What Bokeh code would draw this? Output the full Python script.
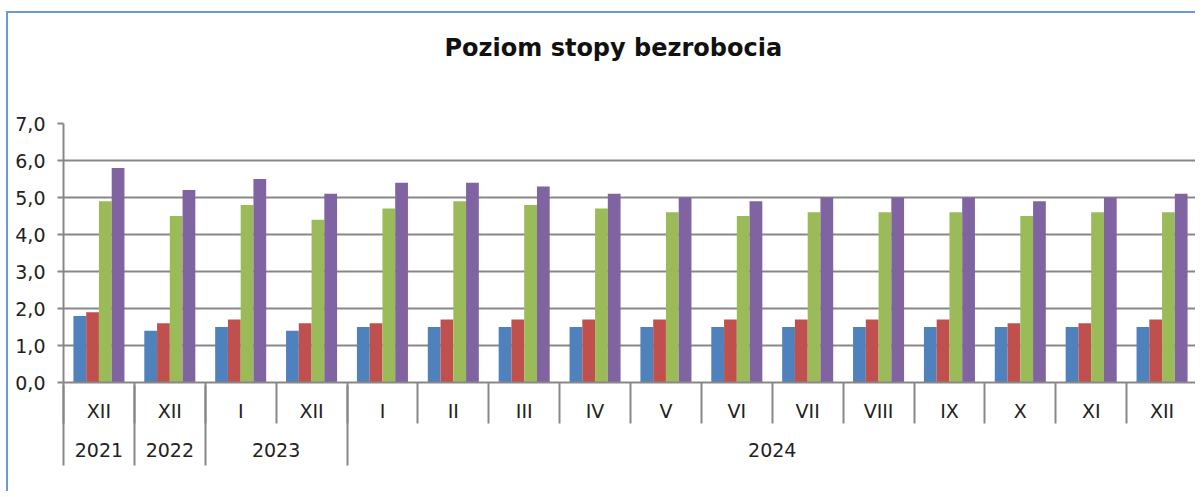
from bokeh.plotting import figure
from bokeh.models import Range1d, LinearAxis, FixedTicker, ColumnDataSource, Title
from bokeh.transform import dodge
from bokeh.embed import file_html
from bokeh.resources import INLINE

# ---- data ----
months = ["XII", "XII", "I", "XII", "I", "II", "III", "IV", "V", "VI",
          "VII", "VIII", "IX", "X", "XI", "XII"]
years = ["2021", "2022", "2023", "2024"]
year_spans = [1, 1, 2, 12]
series_blue = [1.8, 1.4, 1.5, 1.4, 1.5, 1.5, 1.5, 1.5, 1.5, 1.5, 1.5, 1.5, 1.5, 1.5, 1.5, 1.5]
series_red = [1.9, 1.6, 1.7, 1.6, 1.6, 1.7, 1.7, 1.7, 1.7, 1.7, 1.7, 1.7, 1.7, 1.6, 1.6, 1.7]
series_green = [4.9, 4.5, 4.8, 4.4, 4.7, 4.9, 4.8, 4.7, 4.6, 4.5, 4.6, 4.6, 4.6, 4.5, 4.6, 4.6]
series_purple = [5.8, 5.2, 5.5, 5.1, 5.4, 5.4, 5.3, 5.1, 5.0, 4.9, 5.0, 5.0, 5.0, 4.9, 5.0, 5.1]
y_ticks = [0, 1, 2, 3, 4, 5, 6, 7]
y_tick_labels = ["0,0", "1,0", "2,0", "3,0", "4,0", "5,0", "6,0", "7,0"]
title_text = "Poziom stopy bezrobocia"

colors = ["#4F81BD", "#C0504D", "#9BBB59", "#8064A2"]
GRID = "#878787"
TXT = "#222222"
FONT = "DejaVu Sans"

n = len(months)
centers = [i + 0.5 for i in range(n)]
src = ColumnDataSource(dict(x=centers, s0=series_blue, s1=series_red,
                            s2=series_green, s3=series_purple))

p = figure(width=1189, height=480, x_range=Range1d(0, n), y_range=Range1d(0, 7),
           output_backend="svg", toolbar_location=None, x_axis_location=None)
p.styles = {"border-left": "2px solid #6A98D8", "border-top": "2px solid #6A98D8",
            "margin-top": "11px", "margin-left": "6px"}
p.min_border_left = 55
p.min_border_right = 0
p.min_border_top = 110
p.min_border_bottom = 111
p.outline_line_color = None
p.background_fill_color = "white"
p.border_fill_color = "white"

bw = 0.18
offs = [-0.27, -0.09, 0.09, 0.27]
for k in range(4):
    p.vbar(x=dodge("x", offs[k], range=p.x_range), top="s%d" % k, width=bw,
           bottom=0, source=src, fill_color=colors[k], line_color=None)

# spacer between the title and the plot frame
p.add_layout(Title(text=" ", text_font_size="1px", standoff=54), "above")

# title
p.title.text = title_text
p.title.align = "left"
p.title.text_font = FONT
p.title.text_font_size = "24px"
p.title.text_font_style = "bold"
p.title.text_color = "#111111"
p.title.standoff = 10
p.title.offset = 381

# y axis
p.yaxis.ticker = FixedTicker(ticks=y_ticks, minor_ticks=[])
p.ygrid.ticker = FixedTicker(ticks=y_ticks, minor_ticks=[])
p.yaxis.major_label_overrides = {t: l for t, l in zip(y_ticks, y_tick_labels)}
p.yaxis.axis_line_color = GRID
p.yaxis.axis_line_width = 2
p.yaxis.major_tick_line_color = GRID
p.yaxis.major_tick_line_width = 2
p.yaxis.major_tick_out = 6
p.yaxis.major_tick_in = 0
p.yaxis.minor_tick_line_color = None
p.yaxis.major_label_standoff = 12
p.yaxis.major_label_text_font = FONT
p.yaxis.major_label_text_font_size = "19px"
p.yaxis.major_label_text_color = TXT
p.ygrid.grid_line_color = GRID
p.ygrid.grid_line_width = 2
p.xgrid.visible = False

# month axis
boundaries = list(range(n + 1))
ax1 = LinearAxis(ticker=FixedTicker(ticks=centers, minor_ticks=boundaries),
                 major_label_overrides={c: m for c, m in zip(centers, months)})
ax1.axis_line_color = GRID
ax1.axis_line_width = 2
ax1.major_tick_line_color = None
ax1.major_tick_out = 0
ax1.major_tick_in = 0
ax1.minor_tick_line_color = GRID
ax1.minor_tick_line_width = 2
ax1.minor_tick_out = 41
ax1.minor_tick_in = 0
ax1.major_label_standoff = -24
ax1.major_label_text_font = FONT
ax1.major_label_text_font_size = "19px"
ax1.major_label_text_color = TXT
p.add_layout(ax1, "below")

# year axis
ybounds = [0]
for s in year_spans:
    ybounds.append(ybounds[-1] + s)
ycenters = [(ybounds[i] + ybounds[i + 1]) / 2 for i in range(len(years))]
ax2 = LinearAxis(ticker=FixedTicker(ticks=ycenters, minor_ticks=ybounds),
                 major_label_overrides={c: y for c, y in zip(ycenters, years)})
ax2.axis_line_color = None
ax2.major_tick_line_color = None
ax2.major_tick_out = 0
ax2.major_tick_in = 0
ax2.minor_tick_line_color = GRID
ax2.minor_tick_line_width = 2
ax2.minor_tick_in = 39
ax2.minor_tick_out = 41
ax2.major_label_standoff = -23
ax2.major_label_text_font = FONT
ax2.major_label_text_font_size = "19px"
ax2.major_label_text_color = TXT
p.add_layout(ax2, "below")

open("out.html", "w").write(file_html(p, INLINE))
